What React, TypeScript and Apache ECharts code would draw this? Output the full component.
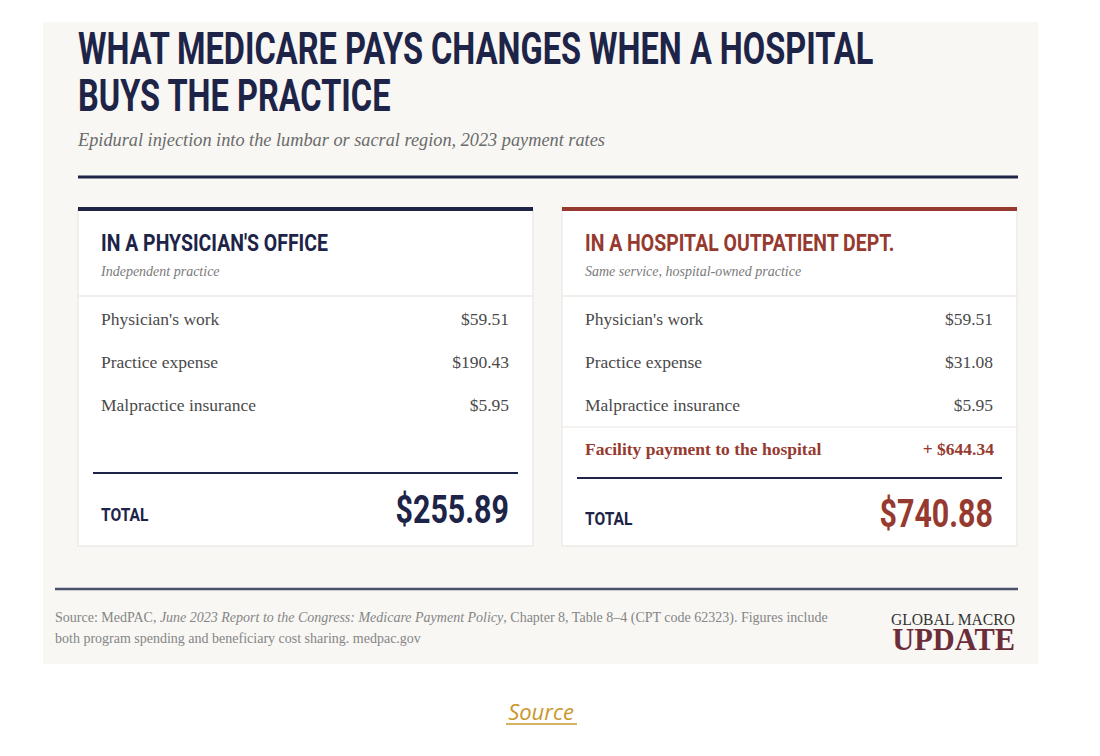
import { useRef, useEffect } from "react";
import * as echarts from "echarts";

const title = ["WHAT MEDICARE PAYS CHANGES WHEN A HOSPITAL", "BUYS THE PRACTICE"];
const subtitle = "Epidural injection into the lumbar or sacral region, 2023 payment rates";

const panelTitles = ["IN A PHYSICIAN'S OFFICE", "IN A HOSPITAL OUTPATIENT DEPT."];
const panelNotes = ["Independent practice", "Same service, hospital-owned practice"];
const itemLabels = ["Physician's work", "Practice expense", "Malpractice insurance"];
const officeValues = [59.51, 190.43, 5.95];
const hospitalValues = [59.51, 31.08, 5.95];
const facilityLabel = "Facility payment to the hospital";
const facilityValue = 644.34;
const totals = [255.89, 740.88];

const NAVY = "#1d2447";
const RED = "#963a2f";
const COND = "Roboto, 'Liberation Sans', sans-serif";
const SERIF = "'Liberation Serif', 'DejaVu Serif', serif";

const money = (v: number) => "$" + v.toFixed(2);

function panel(x0: number, idx: number, values: number[], extra: boolean) {
  const w = 455;
  const accent = idx === 0 ? NAVY : RED;
  const els: any[] = [];
  els.push({ type: "rect", shape: { x: x0, y: 208, width: w, height: 338 }, style: { fill: "#fff", stroke: "#e6e3de", lineWidth: 1 } });
  els.push({ type: "rect", shape: { x: x0, y: 207, width: w, height: 4 }, style: { fill: accent } });
  els.push({ type: "text", x: x0 + 23, y: 243, scaleX: 0.81, style: { text: panelTitles[idx], font: `700 24px ${COND}`, fill: accent, textVerticalAlign: "middle" } });
  els.push({ type: "text", x: x0 + 23, y: 271, style: { text: panelNotes[idx], font: `italic 14px ${SERIF}`, fill: "#7a7a7a", textVerticalAlign: "middle" } });
  els.push({ type: "line", shape: { x1: x0, y1: 296, x2: x0 + w, y2: 296 }, style: { stroke: "#ece9e4", lineWidth: 1.5 } });
  values.forEach((v, i) => {
    const y = 319 + i * 43;
    els.push({ type: "text", x: x0 + 23, y, style: { text: itemLabels[i], font: `17.5px ${SERIF}`, fill: "#4a4a4a", textVerticalAlign: "middle" } });
    els.push({ type: "text", x: x0 + 431, y, style: { text: money(v), font: `17.5px ${SERIF}`, fill: "#4a4a4a", textAlign: "right", textVerticalAlign: "middle" } });
  });
  let lineY = 473;
  let totalY = 510;
  if (extra) {
    els.push({ type: "line", shape: { x1: x0, y1: 427, x2: x0 + w, y2: 427 }, style: { stroke: "#f0ede8", lineWidth: 1.5 } });
    els.push({ type: "text", x: x0 + 23, y: 449, style: { text: facilityLabel, font: `600 17.5px ${SERIF}`, fill: RED, textVerticalAlign: "middle" } });
    els.push({ type: "text", x: x0 + 432, y: 449, style: { text: "+ " + money(facilityValue), font: `600 17.5px ${SERIF}`, fill: RED, textAlign: "right", textVerticalAlign: "middle" } });
    lineY = 478;
    totalY = 514;
  }
  els.push({ type: "line", shape: { x1: x0 + 15, y1: lineY, x2: x0 + w - 15, y2: lineY }, style: { stroke: NAVY, lineWidth: 2 } });
  els.push({ type: "text", x: x0 + 23, y: totalY + 4, scaleX: 0.82, style: { text: "TOTAL", font: `700 19px ${COND}`, fill: NAVY, textVerticalAlign: "middle" } });
  els.push({ type: "text", x: x0 + 431, y: totalY, scaleX: 0.8, style: { text: money(totals[idx]), font: `700 38px ${COND}`, fill: accent, textAlign: "right", textVerticalAlign: "middle" } });
  return els;
}

export default function App() {
  const chartRef = useRef<HTMLDivElement>(null);

  useEffect(() => {
    if (!chartRef.current) return;
    const chart = echarts.init(chartRef.current, undefined, { renderer: "svg" });

    const graphic: any[] = [
      { type: "rect", shape: { x: 43, y: 22, width: 995, height: 642 }, style: { fill: "#f8f7f4" } },
      ...title.map((t, i) => ({
        type: "text", x: 78, y: 49 + i * 47, scaleX: 0.74,
        style: { text: t, font: `700 44px ${COND}`, fill: NAVY, textVerticalAlign: "middle" },
      })),
      { type: "text", x: 78, y: 140, style: { text: subtitle, font: `italic 18.3px ${SERIF}`, fill: "#6b6b6b", textVerticalAlign: "middle" } },
      { type: "line", shape: { x1: 78, y1: 177, x2: 1018, y2: 177 }, style: { stroke: NAVY, lineWidth: 3 } },
      ...panel(78, 0, officeValues, false),
      ...panel(562, 1, hospitalValues, true),
      { type: "line", shape: { x1: 55, y1: 589, x2: 1018, y2: 589 }, style: { stroke: "#4a4f6a", lineWidth: 2.5 } },
      {
        type: "text", x: 55, y: 617,
        style: {
          text: "{n|Source: MedPAC, }{i|June 2023 Report to the Congress: Medicare Payment Policy}{n|, Chapter 8, Table 8–4 (CPT code 62323). Figures include}",
          rich: {
            n: { font: `14px ${SERIF}`, fill: "#858585" },
            i: { font: `italic 14px ${SERIF}`, fill: "#858585" },
          },
          textVerticalAlign: "middle",
        },
      },
      { type: "text", x: 55, y: 638, style: { text: "both program spending and beneficiary cost sharing. medpac.gov", font: `14px ${SERIF}`, fill: "#858585", textVerticalAlign: "middle" } },
      { type: "text", x: 1015, y: 619, scaleX: 0.92, style: { text: "GLOBAL MACRO", font: `17px ${SERIF}`, fill: "#333", textAlign: "right", textVerticalAlign: "middle" } },
      { type: "text", x: 1015, y: 640, scaleX: 0.98, style: { text: "UPDATE", font: `700 31px ${SERIF}`, fill: "#6b2d3a", textAlign: "right", textVerticalAlign: "middle" } },
      { type: "text", x: 541, y: 711, style: { text: "Source", font: `italic 22px 'Open Sans', sans-serif`, fill: "#c9972b", textAlign: "center", textVerticalAlign: "middle" } },
      { type: "line", shape: { x1: 506, y1: 724, x2: 577, y2: 724 }, style: { stroke: "#c9972b", lineWidth: 1.5 } },
    ];

    chart.setOption({ animation: false, backgroundColor: "#ffffff", graphic });

    return () => chart.dispose();
  }, []);

  return <div ref={chartRef} style={{ position: "fixed", left: 0, top: 0, width: 1100, height: 756 }} />;
}
